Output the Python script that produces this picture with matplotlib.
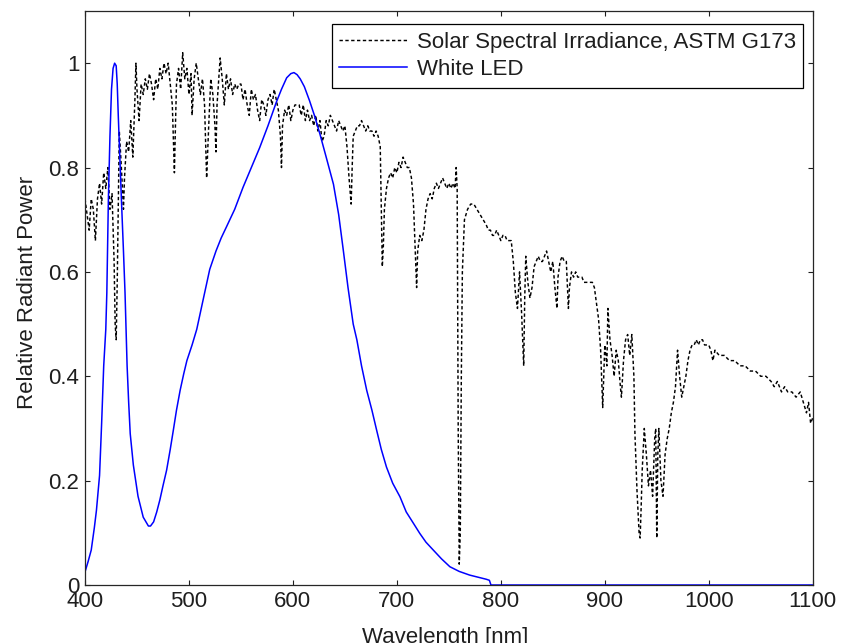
import matplotlib
matplotlib.use("Agg")
import matplotlib.pyplot as plt

# ---- Data -------------------------------------------------------------
solar_wl = [400, 402, 404, 406, 408, 410, 412, 414, 416, 418, 420, 422, 424, 426, 428, 429, 430, 431, 432, 433,
            435, 437, 438, 440, 442, 444, 446, 448, 449, 450, 452, 454, 456, 458, 460, 462, 464, 466, 468, 470,
            472, 474, 476, 478, 480, 482, 484, 486, 487, 488, 490, 492, 494, 496, 498, 500, 502, 503, 505, 507,
            509, 511, 513, 515, 517, 519, 521, 523, 525, 526, 527, 529, 530, 532, 534, 536, 538, 540, 542, 544,
            546, 548, 550, 552, 554, 556, 558, 560, 562, 564, 566, 568, 570, 572, 574, 576, 578, 580, 582, 584,
            586, 588, 589, 590, 592, 594, 596, 598, 600, 602, 604, 606, 608, 610, 612, 614, 616, 618, 620, 622,
            624, 626, 628, 630, 632, 634, 636, 638, 640, 642, 644, 646, 648, 650, 652, 654, 656, 657, 658, 660,
            662, 664, 666, 668, 670, 672, 674, 676, 678, 680, 682, 684, 686, 687, 688, 690, 692, 694, 696, 698,
            700, 702, 704, 706, 708, 710, 712, 714, 716, 718, 719, 720, 722, 724, 726, 728, 730, 732, 734, 736,
            738, 740, 742, 744, 746, 748, 750, 752, 754, 756, 757, 758, 759, 760, 761, 762, 763, 765, 768, 771,
            774, 777, 780, 783, 786, 788, 790, 792, 794, 796, 798, 800, 802, 804, 806, 808, 810, 812, 814, 816,
            818, 820, 822, 823, 824, 826, 828, 830, 832, 834, 836, 838, 840, 842, 844, 846, 848, 850, 852, 854,
            855, 857, 859, 861, 863, 865, 866, 868, 870, 872, 874, 876, 878, 880, 882, 884, 886, 888, 890, 892,
            894, 896, 898, 899, 900, 902, 903, 905, 907, 909, 911, 913, 915, 916, 918, 920, 922, 924, 926, 928,
            929, 931, 933, 934, 935, 936, 938, 940, 942, 944, 946, 948, 949, 950, 951, 952, 954, 956, 958, 960,
            962, 964, 966, 968, 970, 972, 974, 976, 978, 980, 982, 984, 986, 988, 990, 992, 994, 996, 998, 1000,
            1002, 1004, 1006, 1010, 1015, 1020, 1025, 1030, 1035, 1040, 1045, 1050, 1055, 1060, 1063, 1066, 1070,
            1073, 1076, 1080, 1084, 1088, 1091, 1094, 1096, 1098, 1100]
solar_val = [0.74, 0.71, 0.68, 0.74, 0.72, 0.66, 0.74, 0.77, 0.73, 0.79, 0.76, 0.80, 0.72, 0.75, 0.62, 0.50, 0.47, 0.58, 0.72, 0.87,
             0.80, 0.72, 0.78, 0.85, 0.83, 0.89, 0.82, 0.93, 1.00, 0.95, 0.89, 0.96, 0.94, 0.97, 0.95, 0.98, 0.96, 0.93, 0.97, 0.95,
             0.99, 0.97, 1.00, 0.98, 1.00, 0.96, 0.92, 0.79, 0.88, 0.96, 0.99, 0.95, 1.02, 0.97, 0.99, 0.94, 0.98, 0.90, 0.97, 1.00,
             0.97, 0.94, 0.97, 0.92, 0.78, 0.88, 0.97, 0.94, 0.88, 0.83, 0.92, 0.98, 1.01, 0.97, 0.92, 0.98, 0.95, 0.97, 0.94, 0.96,
             0.95, 0.96, 0.96, 0.93, 0.95, 0.92, 0.90, 0.95, 0.93, 0.94, 0.91, 0.89, 0.93, 0.92, 0.90, 0.93, 0.94, 0.92, 0.95, 0.93,
             0.91, 0.86, 0.80, 0.88, 0.91, 0.90, 0.92, 0.89, 0.91, 0.92, 0.92, 0.92, 0.90, 0.92, 0.89, 0.91, 0.89, 0.90, 0.88, 0.90,
             0.87, 0.89, 0.85, 0.86, 0.89, 0.88, 0.90, 0.89, 0.88, 0.87, 0.89, 0.88, 0.87, 0.88, 0.84, 0.78, 0.73, 0.80, 0.86, 0.87,
             0.88, 0.88, 0.89, 0.88, 0.87, 0.88, 0.87, 0.87, 0.86, 0.87, 0.86, 0.84, 0.61, 0.65, 0.72, 0.76, 0.78, 0.79, 0.78, 0.80,
             0.79, 0.81, 0.80, 0.82, 0.81, 0.80, 0.80, 0.78, 0.73, 0.62, 0.57, 0.64, 0.67, 0.66, 0.68, 0.72, 0.74, 0.75, 0.74, 0.76,
             0.77, 0.76, 0.77, 0.78, 0.77, 0.76, 0.77, 0.76, 0.77, 0.76, 0.80, 0.76, 0.30, 0.04, 0.10, 0.40, 0.60, 0.70, 0.72, 0.73,
             0.73, 0.72, 0.71, 0.70, 0.69, 0.68, 0.68, 0.67, 0.67, 0.68, 0.67, 0.66, 0.67, 0.67, 0.66, 0.66, 0.66, 0.62, 0.56, 0.53,
             0.60, 0.52, 0.42, 0.55, 0.63, 0.58, 0.55, 0.57, 0.61, 0.62, 0.63, 0.62, 0.62, 0.63, 0.64, 0.62, 0.60, 0.62, 0.57, 0.53,
             0.59, 0.62, 0.63, 0.62, 0.62, 0.53, 0.57, 0.60, 0.59, 0.60, 0.59, 0.59, 0.59, 0.58, 0.58, 0.58, 0.58, 0.58, 0.57, 0.54,
             0.51, 0.45, 0.34, 0.40, 0.46, 0.42, 0.53, 0.47, 0.44, 0.40, 0.45, 0.43, 0.38, 0.36, 0.43, 0.47, 0.48, 0.44, 0.48, 0.40,
             0.29, 0.18, 0.10, 0.09, 0.15, 0.22, 0.30, 0.25, 0.19, 0.22, 0.17, 0.28, 0.30, 0.09, 0.25, 0.30, 0.20, 0.17, 0.25, 0.28,
             0.30, 0.33, 0.35, 0.38, 0.45, 0.40, 0.36, 0.38, 0.40, 0.43, 0.45, 0.46, 0.46, 0.47, 0.46, 0.47, 0.47, 0.46, 0.46, 0.46,
             0.45, 0.43, 0.45, 0.44, 0.44, 0.43, 0.43, 0.42, 0.42, 0.41, 0.41, 0.40, 0.40, 0.39, 0.38, 0.39, 0.37,
             0.38, 0.37, 0.37, 0.36, 0.37, 0.35, 0.33, 0.35, 0.31, 0.32]

led_wl = [400, 403, 406, 409, 411, 414, 416, 418, 420, 421, 422.5, 424, 425.5, 427, 428.5, 430, 431, 432, 433.5, 435,
          437, 438.5, 439.5, 440.5, 442, 443.5, 446.5, 451, 456, 461, 463, 466, 469, 472, 475, 478.5, 482, 485, 488, 491.5,
          495, 498, 503, 507.5, 514, 520, 526, 531, 536, 544, 552, 560, 568, 576, 584, 589, 594, 598, 601, 604,
          607, 611, 616, 621, 626, 632, 639, 644, 648.5, 653, 658, 661.5, 666, 671, 676, 680.5, 685, 690, 696, 703,
          709, 716, 722, 728, 735, 743, 751, 760, 770, 778, 786, 789, 790.5, 800, 1100]
led_val = [0.025, 0.045, 0.067, 0.11, 0.143, 0.21, 0.31, 0.42, 0.49, 0.56, 0.74, 0.86, 0.95, 0.99, 1.00, 0.995, 0.96, 0.90, 0.82, 0.74,
           0.64, 0.56, 0.49, 0.42, 0.35, 0.29, 0.23, 0.17, 0.13, 0.113, 0.113, 0.121, 0.14, 0.163, 0.19, 0.22, 0.26, 0.297, 0.335, 0.373,
           0.405, 0.43, 0.46, 0.49, 0.55, 0.605, 0.64, 0.665, 0.686, 0.72, 0.762, 0.80, 0.838, 0.88, 0.925, 0.95, 0.972, 0.98, 0.982, 0.978,
           0.97, 0.955, 0.928, 0.898, 0.864, 0.82, 0.768, 0.71, 0.641, 0.57, 0.50, 0.47, 0.42, 0.373, 0.335, 0.297, 0.26, 0.226, 0.195, 0.169,
           0.14, 0.118, 0.099, 0.082, 0.067, 0.05, 0.035, 0.026, 0.019, 0.015, 0.011, 0.009, 0.0, 0.0, 0.0]

series_labels = ["Solar Spectral Irradiance, ASTM G173", "White LED"]
x_ticks = [400, 500, 600, 700, 800, 900, 1000, 1100]
y_ticks = [0, 0.2, 0.4, 0.6, 0.8, 1.0]
y_tick_labels = ["0", "0.2", "0.4", "0.6", "0.8", "1"]

# ---- Figure -----------------------------------------------------------
plt.rcParams['font.family'] = ['Liberation Sans', 'DejaVu Sans']
txt = '#1e1e1e'
fig = plt.figure(figsize=(8.41, 6.43), dpi=100)
ax = fig.add_axes([85 / 841, 58 / 643, 727.7 / 841, 574 / 643])

ax.plot(solar_wl, solar_val, color='black', lw=1.05, linestyle=(0, (2.3, 1.7)),
        label=series_labels[0])
ax.plot(led_wl, led_val, color='#0000ff', lw=1.1, label=series_labels[1])

ax.set_xlim(400, 1100)
ax.set_ylim(0, 1.1)
ax.set_xticks(x_ticks)
ax.set_yticks(y_ticks)
ax.set_yticklabels(y_tick_labels)
ax.tick_params(direction='in', length=3.6, width=0.8, top=True, right=True,
               labelsize=16, colors=txt, pad=4)
for s in ax.spines.values():
    s.set_color('#262626')
    s.set_linewidth(0.9)

ax.set_xlabel("Wavelength [nm]", fontsize=16, color=txt)
ax.xaxis.set_label_coords(0.495, -0.073)
ax.set_ylabel("Relative Radiant Power", fontsize=16, color=txt)
ax.yaxis.set_label_coords(-0.065, 0.51)

leg = ax.legend(loc='upper right', bbox_to_anchor=(0.987, 0.977), borderaxespad=0,
                fontsize=16, frameon=True, fancybox=False, framealpha=1,
                edgecolor='black', handlelength=3.05, handletextpad=0.45,
                labelspacing=0.3, borderpad=0.33)
leg.get_frame().set_linewidth(0.9)
for t in leg.get_texts():
    t.set_color(txt)

fig.savefig("out.png", dpi=100)
